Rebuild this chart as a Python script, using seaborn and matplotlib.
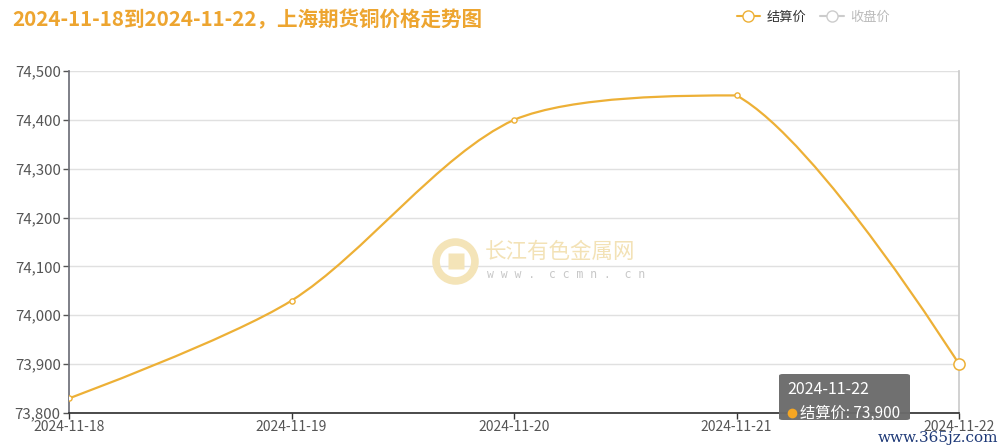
import numpy as np
import pandas as pd
import seaborn as sns
import matplotlib.pyplot as plt
from matplotlib.path import Path
from matplotlib.patches import PathPatch, FancyBboxPatch
from matplotlib.lines import Line2D
from matplotlib.ticker import FuncFormatter

dates = ['2024-11-18', '2024-11-19', '2024-11-20', '2024-11-21', '2024-11-22']
settle = [73830, 74030, 74400, 74450, 73900]
title = '2024-11-18到2024-11-22，上海期货铜价格走势图'

sns.set_theme(style='white')
plt.rcParams['font.family'] = ['Noto Sans CJK SC', 'DejaVu Sans']

orange = '#EDB036'
df = pd.DataFrame({'date': dates, 'price': settle, 'x': range(len(dates))})

fig = plt.figure(figsize=(10, 4.47), dpi=100)
ax = fig.add_axes([0.069, 1 - 413 / 447, 0.890, (413 - 71) / 447])
ax.set_xlim(0, len(dates) - 1)
ax.set_ylim(73800, 74500)


# smooth line like the web chart: bezier control points from neighbours,
# clamped to the bounding box of the points (computed in pixel space)
def smooth_path(xs, ys, sx, sy, smooth=0.3):
    pts = np.column_stack([np.array(xs, float) * sx, np.array(ys, float) * sy])
    lo, hi = pts.min(axis=0), pts.max(axis=0)
    n = len(pts)
    cps = []
    for i in range(n):
        p = pts[i]
        if i == 0 or i == n - 1:
            cps.append(p.copy())
            continue
        v = (pts[i + 1] - pts[i - 1]) * smooth
        d0 = np.hypot(*(p - pts[i - 1]))
        d1 = np.hypot(*(p - pts[i + 1]))
        s = d0 + d1
        d0, d1 = d0 / s, d1 / s
        cps.append(np.clip(p - v * d0, lo, hi))
        cps.append(np.clip(p + v * d1, lo, hi))
    verts = [pts[0]]
    codes = [Path.MOVETO]
    for i in range(1, n):
        verts += [cps[2 * i - 2], cps[2 * i - 1], pts[i]]
        codes += [Path.CURVE4] * 3
    verts = [(a / sx, b / sy) for a, b in verts]
    return Path(verts, codes)


sx = 890 / (len(dates) - 1)
sy = 342 / 700
ax.add_patch(PathPatch(smooth_path(df['x'], df['price'], sx, sy), fill=False,
                       edgecolor=orange, lw=1.6, zorder=3))
sns.scatterplot(data=df.iloc[:-1], x='x', y='price', ax=ax, s=14, marker='o',
                facecolor='white', edgecolor=orange, linewidth=1, zorder=4, legend=False)
sns.scatterplot(data=df.iloc[-1:], x='x', y='price', ax=ax, s=65, marker='o',
                facecolor='white', edgecolor=orange, linewidth=1.1, zorder=4, legend=False, clip_on=False)

ax.set_xticks(df['x'])
ax.set_xticklabels(dates)
ax.set_yticks(np.arange(73800, 74501, 100))
ax.yaxis.set_major_formatter(FuncFormatter(lambda v, p: f'{int(v):,}'))
ax.set_xlabel('')
ax.set_ylabel('')
ax.grid(axis='y', color='#E0E0E0', lw=1)
ax.grid(axis='x', visible=False)
ax.spines['top'].set_visible(False)
ax.spines['right'].set_color('#CCCCCC')
ax.spines['left'].set_color('#6E7079')
ax.spines['bottom'].set_color('#333333')
ax.tick_params(axis='both', colors='#555555', labelsize=10, length=4, width=1,
               direction='out', bottom=True, left=True, pad=1)
ax.tick_params(axis='y', labelsize=10.8, pad=2)
ax.tick_params(axis='x', colors='#333333', labelcolor='#555555')

# watermark
fig.add_artist(Line2D([0.455], [1 - 261 / 447], transform=fig.transFigure, marker='o',
                      markersize=28, markerfacecolor='none', markeredgecolor='#F4E4B8',
                      markeredgewidth=5.5, zorder=1))
fig.add_artist(Line2D([0.456], [1 - 261 / 447], transform=fig.transFigure, marker='s',
                      markersize=11, markerfacecolor='#F4E4B8', markeredgecolor='none', zorder=1))
fig.text(0.485, 1 - 252 / 447, '长江有色金属网', fontsize=15.5, color='#F3E2B6', va='center', zorder=1)
fig.text(0.487, 1 - 274 / 447, 'w w w .  c c m n .  c n', fontsize=8.3, color='#C8C8C8',
         family='DejaVu Sans Mono', va='center', zorder=1)

# title
fig.text(0.012, 1 - 20 / 447, title, fontsize=14.8, fontweight='bold', color='#EDA530', va='center')

# legend
h1 = Line2D([], [], color=orange, lw=1.5, marker='o', markersize=8,
            markerfacecolor='white', markeredgecolor=orange)
h2 = Line2D([], [], color='#CCCCCC', lw=1.5, marker='o', markersize=8,
            markerfacecolor='white', markeredgecolor='#CCCCCC')
leg = fig.legend([h1, h2], ['结算价', '收盘价'], loc='center left', bbox_to_anchor=(0.73, 1 - 17 / 447),
                 ncol=2, frameon=False, fontsize=9.5, handlelength=1.8, columnspacing=1.0,
                 handletextpad=0.5, borderpad=0)
leg.get_texts()[0].set_color('#333333')
leg.get_texts()[1].set_color('#BBBBBB')

# tooltip
fig.patches.append(FancyBboxPatch((0.779, 1 - 420 / 447), 0.131, 46 / 447,
                                  boxstyle='round,pad=0,rounding_size=0.004',
                                  transform=fig.transFigure, facecolor='#6B6B6B',
                                  edgecolor='none', alpha=0.97, zorder=10))
fig.text(0.787, 1 - 390 / 447, '2024-11-22', fontsize=11.5, color='white', va='center', zorder=11)
fig.add_artist(Line2D([0.7915], [1 - 413 / 447], transform=fig.transFigure, marker='o',
                      markersize=7, markerfacecolor='#F5A623', markeredgecolor='none', zorder=11))
fig.text(0.8, 1 - 413 / 447, '结算价: 73,900', fontsize=11, color='white', va='center', zorder=11)

fig.text(0.878, 1 - 438 / 447, 'www.365jz.com', fontsize=11, color='#1F3A78',
         family='DejaVu Serif', va='center', zorder=12)

fig.savefig('out.png', dpi=100)
